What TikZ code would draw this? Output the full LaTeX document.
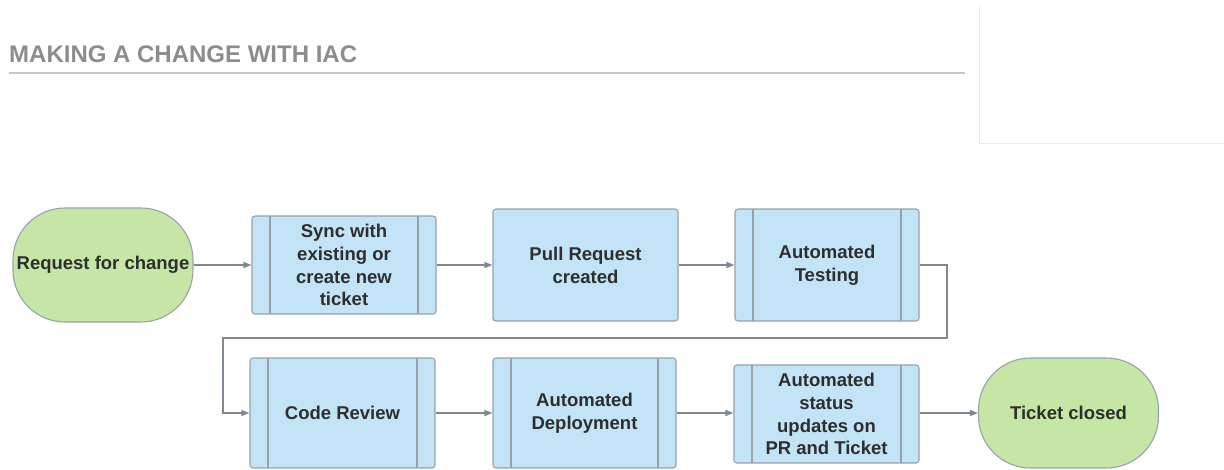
\documentclass[tikz,border=0pt]{standalone}
\usepackage{fontspec}
\setmainfont{Liberation Sans}
\usetikzlibrary{arrows.meta}
\definecolor{greenfill}{HTML}{C6E6A6}
\definecolor{bluefill}{HTML}{C3E3F6}
\definecolor{boxborder}{HTML}{97A2AD}
\definecolor{conn}{HTML}{7D8894}
\definecolor{txt}{HTML}{2E2E2E}
\definecolor{titlegray}{HTML}{8C8C8C}
\tikzset{
  x=1pt, y=-1pt,
  base/.style={draw=boxborder, line width=1.1pt, text=txt, font=\bfseries\fontsize{18.5}{22.8}\selectfont, align=center, inner sep=0pt},
  terminal/.style={base, fill=greenfill, rounded corners=52pt, minimum width=180pt, minimum height=114pt},
  plainbox/.style={base, fill=bluefill, rounded corners=3pt},
  procbox/.style={plainbox, path picture={
      \draw[boxborder, line width=1.1pt] ([xshift=18pt]path picture bounding box.north west) -- ([xshift=18pt]path picture bounding box.south west);
      \draw[boxborder, line width=1.1pt] ([xshift=-18pt]path picture bounding box.north east) -- ([xshift=-18pt]path picture bounding box.south east);}},
  flow/.style={draw=conn, line width=1.3pt, -{Triangle[length=8pt,width=6pt]}},
}
\begin{document}
\begin{tikzpicture}
\useasboundingbox (0,0) rectangle (1224,469);
% header
\node[anchor=west, text=titlegray, font=\bfseries\fontsize{24}{28}\selectfont, inner sep=0pt] (title) at (9,54.5) {MAKING A CHANGE WITH IAC};
\draw[draw=black!22, line width=2.2pt] (9,73) -- (965,73);
\draw[draw=black!8, line width=0.8pt] (979,6) -- (979,143) -- (1224,143);
% row 1
\node[terminal] (req) at (103,265) {Request for change};
\node[procbox, minimum width=184pt, minimum height=98pt] (sync) at (344,265) {Sync with\\existing or\\create new\\ticket};
\node[plainbox, minimum width=185pt, minimum height=112pt] (pr) at (585.5,265) {Pull Request\\created};
\node[procbox, minimum width=184pt, minimum height=112pt] (at) at (827,265) {Automated\\Testing};
% row 2
\node[procbox, minimum width=185pt, minimum height=110pt] (cr) at (342.5,413) {Code Review};
\node[procbox, minimum width=183pt, minimum height=110pt] (ad) at (584.5,413) {Automated\\Deployment};
\node[procbox, minimum width=185pt, minimum height=98pt] (as) at (826.5,414) {Automated\\status\\updates on\\PR and Ticket};
\node[terminal, minimum height=110pt] (tc) at (1068.5,413) {Ticket closed};
% connectors
\coordinate (r1) at (947,265);
\coordinate (r2) at (947,338);
\coordinate (l1) at (223,338);
\coordinate (l2) at (223,413);
\draw[flow] (req.east) -- (sync.west);
\draw[flow] (sync.east) -- (pr.west);
\draw[flow] (pr.east) -- (at.west);
\draw[flow] (at.east) -- (r1) -- (r2) -- (l1) -- (l2) -- (cr.west);
\draw[flow] (cr.east) -- (ad.west);
\draw[flow] (ad.east) -- (as.west |- ad.east);
\draw[flow] (as.east |- tc.west) -- (tc.west);
\end{tikzpicture}
\end{document}
